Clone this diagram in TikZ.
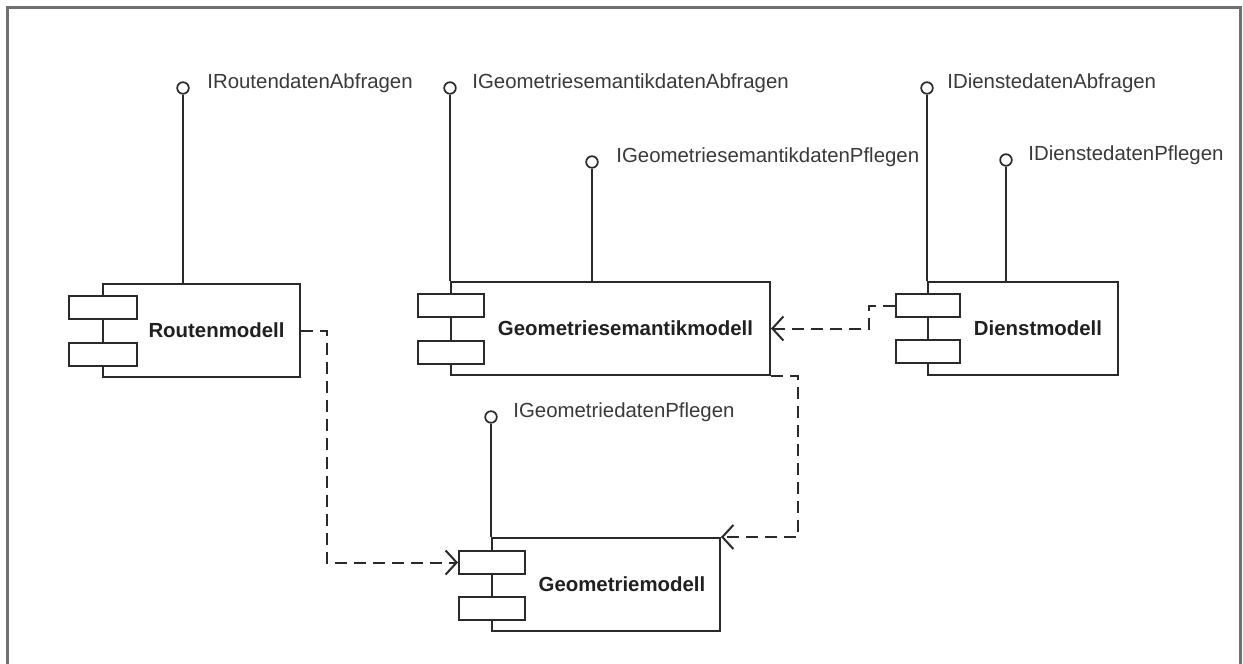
\documentclass[tikz,border=0pt]{standalone}
\usepackage{fontspec}
\setmainfont{Liberation Sans}
\usetikzlibrary{arrows.meta}
\definecolor{linecol}{HTML}{2A2A2A}
\definecolor{textcol}{HTML}{3A3A3A}
\definecolor{namecol}{HTML}{202020}
\definecolor{framecol}{HTML}{707070}
\begin{document}
\begin{tikzpicture}[x=0.5pt,y=-0.5pt,
  comp/.style={draw=linecol, fill=white, anchor=north west, inner sep=0pt,
    line width=1pt, minimum height=46.5pt},
  port/.style={draw=linecol, fill=white, anchor=north west, inner sep=0pt,
    minimum width=33pt, minimum height=11.5pt, line width=1pt},
  lollipop/.style={circle, draw=linecol, fill=white, inner sep=0pt,
    minimum size=5.8pt, line width=0.85pt},
  iface/.style={anchor=base west, inner sep=0pt, text=textcol,
    font=\fontsize{10.2}{12}\selectfont},
  cname/.style={inner sep=0pt, text=namecol,
    font=\fontsize{10.2}{12}\selectfont\bfseries},
  stem/.style={draw=linecol, line width=1pt},
  dep/.style={draw=linecol, line width=1pt, dash pattern=on 6pt off 3.5pt,
    -{Straight Barb[length=5.5pt,width=12pt]}}
]
\useasboundingbox[fill=white] (0,0) rectangle (1243,664);

% outer frame
\draw[framecol, line width=1.5pt] (7,664) -- (7,7) -- (1240,7) -- (1240,664);

% provided interfaces (lollipops)
\node[lollipop] (rm-i)  at (183,88)  {};
\node[lollipop] (gsm-a) at (450,88)  {};
\node[lollipop] (gsm-p) at (592,162) {};
\node[lollipop] (dm-a)  at (927,88)  {};
\node[lollipop] (dm-p)  at (1006,160) {};
\node[lollipop] (gm-p)  at (491,417) {};

\node[iface] (rm-il)  at ([xshift=12pt]rm-i.center)  {IRoutendatenAbfragen};
\node[iface] (gsm-al) at ([xshift=11pt]gsm-a.center) {IGeometriesemantikdatenAbfragen};
\node[iface] (gsm-pl) at ([xshift=12pt]gsm-p.center) {IGeometriesemantikdatenPflegen};
\node[iface] (dm-al)  at ([xshift=10pt]dm-a.center)  {IDienstedatenAbfragen};
\node[iface] (dm-pl)  at ([xshift=11pt]dm-p.center)  {IDienstedatenPflegen};
\node[iface] (gm-pl)  at ([xshift=11pt]gm-p.center)  {IGeometriedatenPflegen};

% components
\node[comp, minimum width=98.5pt]  (rm)  at (102,283) {};
\node[comp, minimum width=159.5pt] (gsm) at (450,281) {};
\node[comp, minimum width=95pt]    (dm)  at (927,281) {};
\node[comp, minimum width=114pt]   (gm)  at (491,537) {};

% interface stems
\draw[stem] (rm-i.south)  -- (rm-i.south |- rm.north);
\draw[stem] (gsm-a.south) -- (gsm-a.south |- gsm.north);
\draw[stem] (gsm-p.south) -- (gsm-p.south |- gsm.north);
\draw[stem] (dm-a.south)  -- (dm-a.south |- dm.north);
\draw[stem] (dm-p.south)  -- (dm-p.south |- dm.north);
\draw[stem] (gm-p.south)  -- (gm-p.south |- gm.north);

% component ports
\node[port, minimum width=34pt] (rm-p1) at (68,295) {};
\node[port, minimum width=34pt] (rm-p2) at (68,342) {};
\node[port] (gsm-p1) at (417,293) {};
\node[port] (gsm-p2) at (417,340) {};
\node[port, minimum width=32pt] (dm-p1) at (895,293) {};
\node[port, minimum width=32pt] (dm-p2) at (895,339) {};
\node[port] (gm-p1) at (458,550) {};
\node[port] (gm-p2) at (458,596) {};

% component names
\node[cname] (rm-n)  at ([xshift=7.5pt]rm.center)  {Routenmodell};
\node[cname] (gsm-n) at ([xshift=7.5pt]gsm.center) {Geometriesemantikmodell};
\node[cname] (dm-n)  at ([xshift=7.5pt]dm.center)  {Dienstmodell};
\node[cname] (gm-n)  at ([xshift=8pt]gm.center)    {Geometriemodell};

% dependencies
\draw[dep] (rm.east) -- ([xshift=13pt]rm.east) |- (gm-p1.west);
\draw[dep] (gsm.south east) -- ([xshift=13.5pt]gsm.south east) |- (gm.north east);
\draw[dep] (dm-p1.west) -- ([xshift=-13pt]dm-p1.west) |- (gsm.east);
\end{tikzpicture}
\end{document}
